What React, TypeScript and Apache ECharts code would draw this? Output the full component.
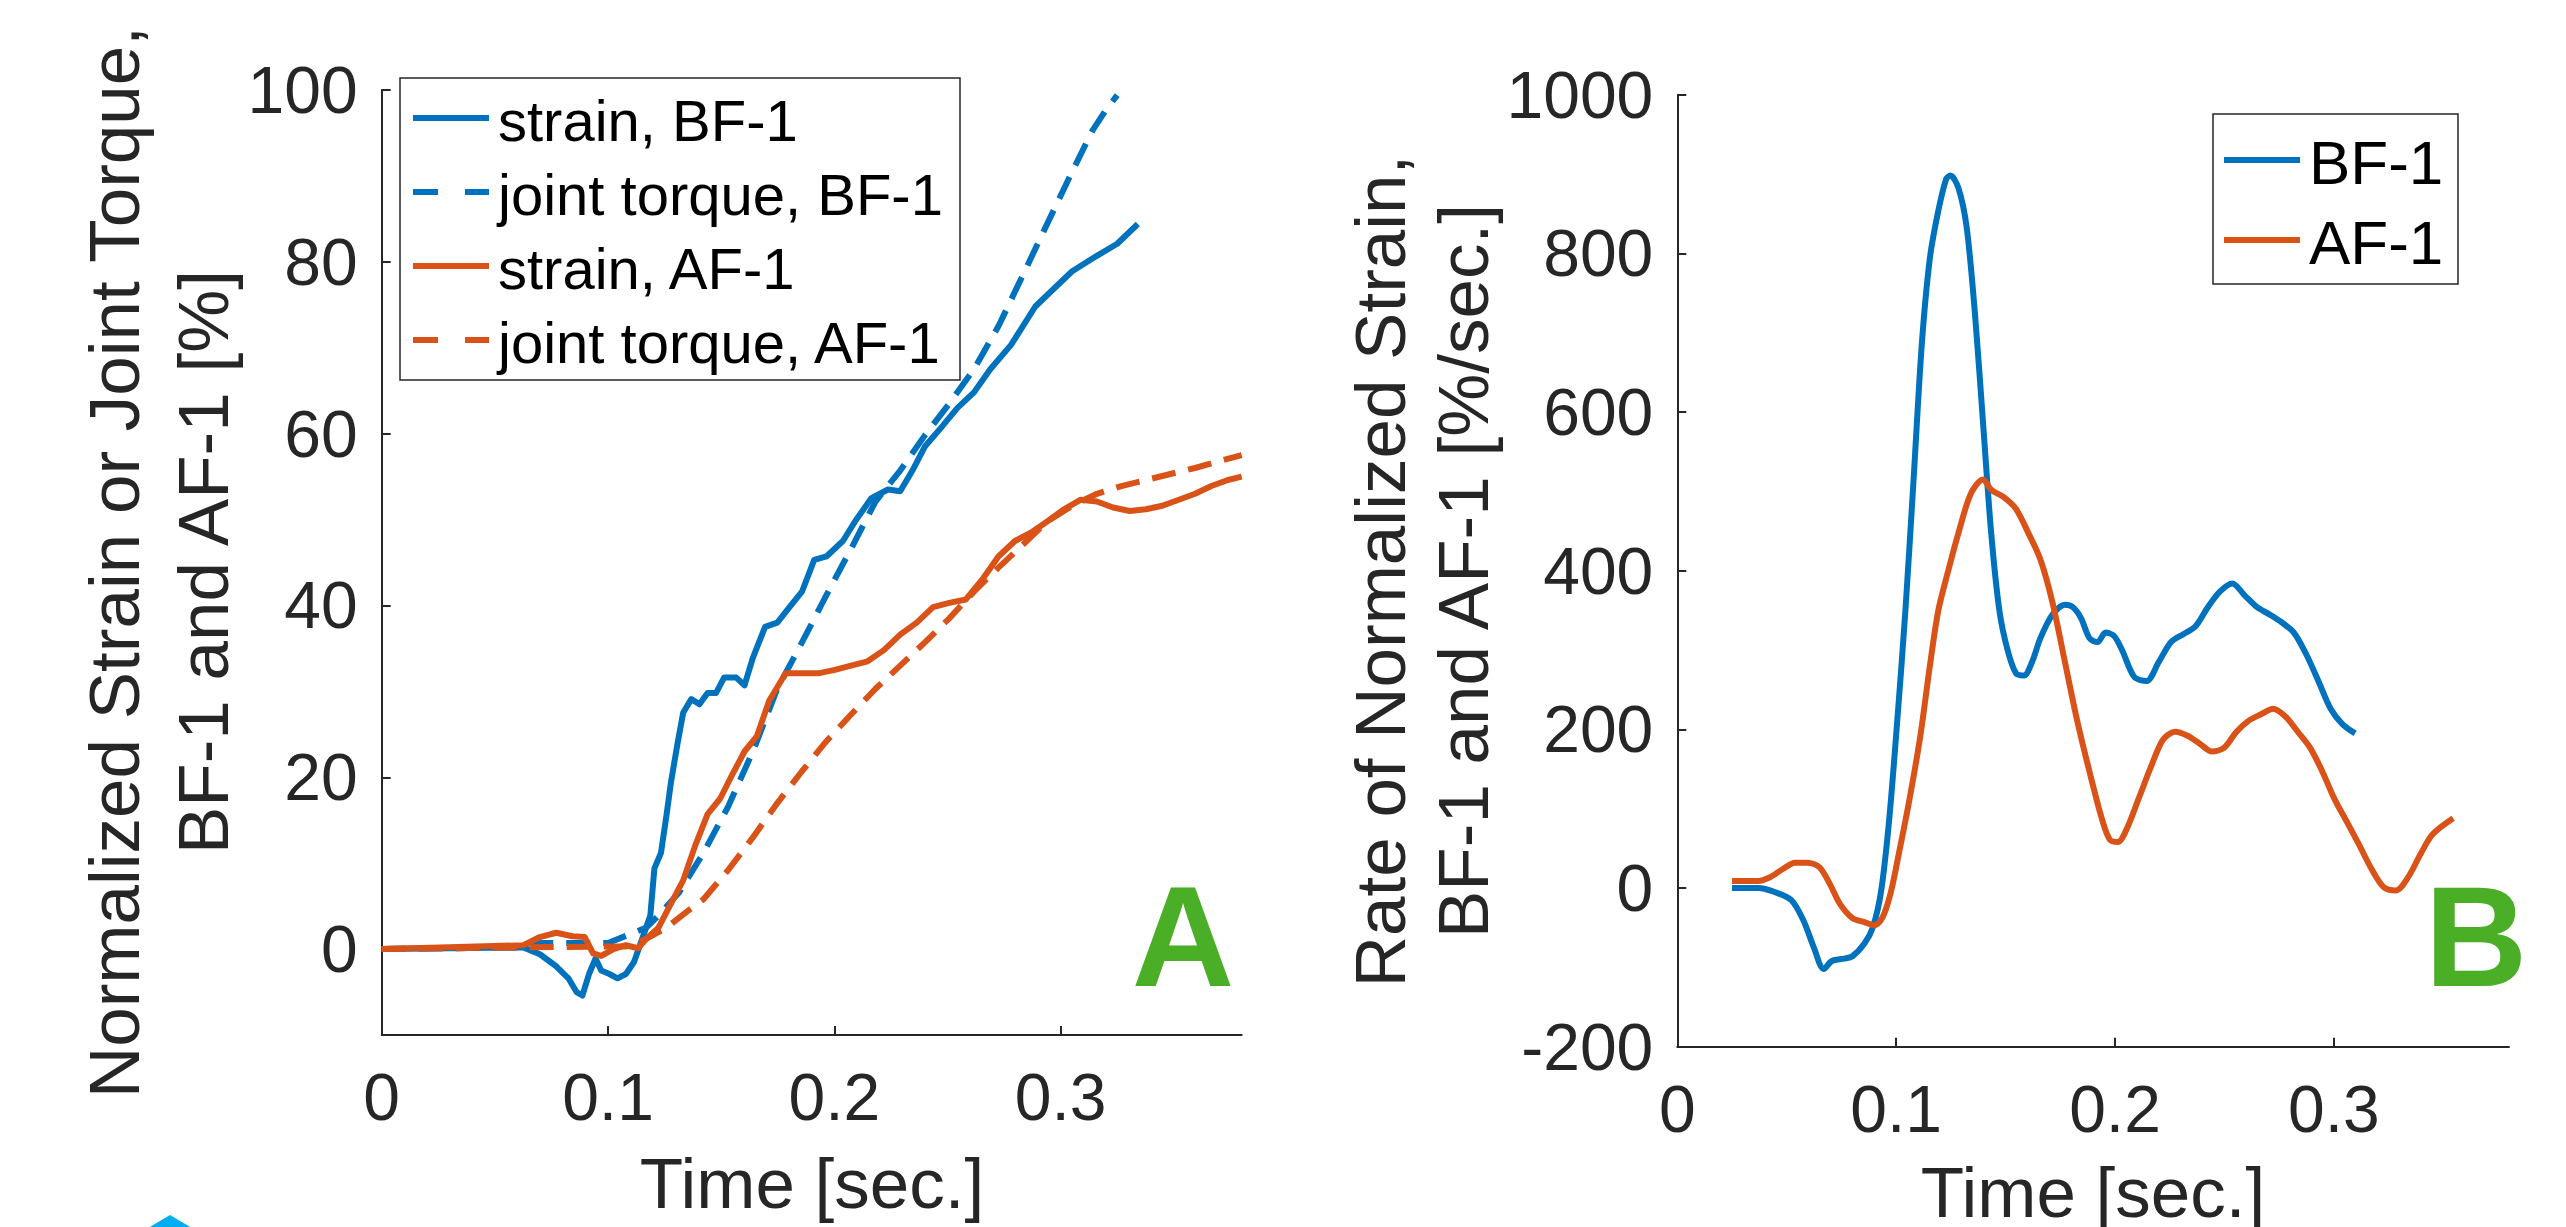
import React, { useEffect, useRef } from "react";
import * as echarts from "echarts";

const FONT = "'Liberation Sans', Arial, Helvetica, sans-serif";
const BLUE = "#0072BD";
const ORANGE = "#D95319";
const GREEN = "#4AAE27";
const AXIS = "#262626";

// ---------- tick labels ----------
const xTicks = [0, 0.1, 0.2, 0.3];
const yTicksA = [0, 20, 40, 60, 80, 100];
const yTicksB = [-200, 0, 200, 400, 600, 800, 1000];

// ---------- panel A: normalized strain / joint torque [%] ----------
const strainBF1: [number, number][] = [
  [0, 0], [0.03, 0.1], [0.0626, 0.2], [0.0699, -0.6], [0.0771, -2], [0.0825, -3.4], [0.0861, -5],
  [0.0887, -5.4], [0.0916, -2.9], [0.0945, -1.1], [0.097, -2.5], [0.1006, -2.9], [0.1042, -3.4],
  [0.1079, -2.9], [0.1115, -1.5], [0.1151, 1.2], [0.1187, 3.9], [0.1205, 9.4], [0.1234, 11.2],
  [0.1259, 15.7], [0.1278, 19.4], [0.1307, 23.9], [0.1332, 27.5], [0.1368, 29.1], [0.1404, 28.5],
  [0.144, 29.8], [0.1477, 29.8], [0.1513, 31.6], [0.1567, 31.6], [0.1603, 30.7], [0.164, 33.9],
  [0.1694, 37.5], [0.1748, 38], [0.1802, 39.8], [0.1857, 41.6], [0.1911, 45.3], [0.1965, 45.7],
  [0.2038, 47.5], [0.2092, 49.8], [0.2164, 52.5], [0.2237, 53.5], [0.2291, 53.3], [0.2345, 55.7],
  [0.24, 58.5], [0.2472, 60.7], [0.2544, 63], [0.2617, 64.8], [0.2689, 67.5], [0.278, 70.3],
  [0.2888, 74.8], [0.2979, 77.1], [0.3051, 78.9], [0.316, 80.7], [0.325, 82.1], [0.3341, 84.4],
];
const torqueBF1: [number, number][] = [
  [0, 0], [0.06, 0.2], [0.069, 0.7], [0.1, 0.7], [0.1169, 2.5], [0.1223, 3.9], [0.1314, 6.6],
  [0.1422, 11.2], [0.1531, 16.6], [0.164, 23], [0.1748, 30.3], [0.1857, 35.7], [0.1965, 41.2],
  [0.2074, 46.6], [0.2182, 52.1], [0.2291, 55.7], [0.24, 59.8], [0.2508, 63.5], [0.2617, 67.5],
  [0.2725, 72.5], [0.2834, 78.5], [0.2942, 84.5], [0.3051, 90.5], [0.3141, 95.3], [0.3196, 97.5],
  [0.325, 99.4],
];
const strainAF1: [number, number][] = [
  [0, 0], [0.03, 0.2], [0.0626, 0.45], [0.0699, 1.4], [0.0771, 1.9], [0.0843, 1.5], [0.0897, 1.4],
  [0.0934, -0.5], [0.097, -0.8], [0.1024, 0], [0.1079, 0.45], [0.1133, 0.1], [0.1169, 1.2],
  [0.1223, 2.5], [0.1278, 5.3], [0.1332, 8], [0.1386, 12.1], [0.144, 15.7], [0.1495, 17.5],
  [0.1549, 20.3], [0.1603, 23], [0.1658, 24.8], [0.1712, 28.9], [0.1785, 32.1], [0.1857, 32.1],
  [0.1929, 32.1], [0.2002, 32.5], [0.2074, 33], [0.2147, 33.5], [0.2219, 34.8], [0.2291, 36.6],
  [0.2364, 38], [0.2436, 39.8], [0.2508, 40.3], [0.2581, 40.7], [0.2653, 43], [0.2725, 45.7],
  [0.2798, 47.5], [0.287, 48.5], [0.2942, 49.8], [0.3015, 51.2], [0.3087, 52.3], [0.316, 52.1],
  [0.3232, 51.4], [0.3305, 51], [0.3377, 51.2], [0.3449, 51.6], [0.3522, 52.3], [0.3594, 53],
  [0.3666, 53.9], [0.3739, 54.6], [0.38, 55],
];
const torqueAF1: [number, number][] = [
  [0, 0], [0.06, 0.2], [0.1, 0.3], [0.1079, 0.3], [0.1169, 1.2], [0.1259, 2.5], [0.135, 4.4],
  [0.1422, 5.8], [0.1531, 9.2], [0.164, 13.0], [0.1748, 17.0], [0.1857, 20.7], [0.1965, 24.2],
  [0.2074, 27.3], [0.2182, 30.3], [0.2291, 33], [0.24, 35.7], [0.2508, 38.5], [0.2617, 41.6],
  [0.2725, 44.4], [0.2834, 47.1], [0.2942, 49.8], [0.3051, 51.6], [0.316, 53], [0.3268, 53.9],
  [0.3377, 54.6], [0.3485, 55.3], [0.3594, 56], [0.3702, 56.8], [0.38, 57.5],
];

// ---------- panel B: rate of normalized strain [%/sec.] ----------
const rateBF1: [number, number][] = [
  [0.025, 0], [0.037, 0], [0.0445, -5], [0.052, -15], [0.0575, -40], [0.0624, -75], [0.0669, -102],
  [0.0706, -92], [0.0762, -89], [0.08, -86], [0.0855, -70], [0.0893, -50], [0.093, -6], [0.0967, 83],
  [0.1005, 211], [0.1042, 349], [0.108, 517], [0.1117, 685], [0.1154, 794], [0.1192, 853],
  [0.1229, 894], [0.1248, 898], [0.1285, 882], [0.1322, 833], [0.136, 724], [0.1397, 586],
  [0.1434, 448], [0.1472, 349], [0.1509, 300], [0.1547, 271], [0.1584, 268], [0.1621, 285],
  [0.1659, 315], [0.1715, 345], [0.1771, 357], [0.1808, 354], [0.1845, 340], [0.1883, 315],
  [0.192, 310], [0.1957, 322], [0.1995, 318], [0.2032, 300], [0.2088, 266], [0.2144, 261],
  [0.22, 285], [0.2256, 310], [0.2312, 320], [0.2368, 330], [0.2424, 354], [0.248, 374],
  [0.2536, 384], [0.2592, 369], [0.2649, 354], [0.2705, 345], [0.2761, 335], [0.2817, 322],
  [0.2873, 295], [0.2929, 261], [0.2985, 226], [0.3041, 206], [0.3097, 195],
];
const rateAF1: [number, number][] = [
  [0.025, 9], [0.037, 9], [0.0426, 14], [0.0482, 24], [0.0538, 32], [0.0594, 32], [0.065, 26],
  [0.0699, 4], [0.0743, -20], [0.08, -38], [0.0855, -43], [0.09, -47], [0.0938, -37], [0.0975, -6],
  [0.1012, 43], [0.1061, 112], [0.111, 191], [0.1154, 280], [0.1192, 349], [0.1236, 398],
  [0.1285, 448], [0.1341, 497], [0.1397, 515], [0.1434, 502], [0.149, 493], [0.1547, 478],
  [0.1603, 448], [0.1659, 414], [0.1715, 359], [0.1771, 285], [0.1827, 211], [0.1883, 147],
  [0.1939, 88], [0.1976, 61], [0.2013, 58], [0.2051, 73], [0.2107, 112], [0.2163, 152],
  [0.2219, 187], [0.2275, 197], [0.2331, 192], [0.2387, 182], [0.2443, 172], [0.2499, 177],
  [0.2555, 197], [0.2611, 211], [0.2667, 219], [0.2723, 226], [0.2779, 216], [0.2835, 197],
  [0.2891, 177], [0.2947, 147], [0.3003, 112], [0.306, 83], [0.3116, 54], [0.3172, 24],
  [0.3228, 1], [0.3284, -3], [0.334, 14], [0.3396, 43], [0.3452, 68], [0.3545, 88],
];

// ---------- texts ----------
const legendA = ["strain, BF-1", "joint torque, BF-1", "strain, AF-1", "joint torque, AF-1"];
const legendB = ["BF-1", "AF-1"];
const yTitleA = ["Normalized Strain or Joint Torque,", "BF-1 and AF-1 [%]"];
const yTitleB = ["Rate of Normalized Strain,", "BF-1 and AF-1 [%/sec.]"];
const xTitle = "Time [sec.]";
const panelLetters = ["A", "B"];

const fmtX = (v: number) => (v === 0 ? "0" : String(Number(v.toFixed(2))));
const fmtY = (v: number) => String(Math.round(v));

function xAxisDef(gridIndex: number) {
  return {
    type: "value",
    gridIndex,
    min: 0,
    max: 0.38,
    axisLine: { show: true, onZero: false, lineStyle: { color: AXIS, width: 2 } },
    axisTick: { show: true, inside: true, length: 9, customValues: xTicks, lineStyle: { color: AXIS, width: 2 } },
    axisLabel: {
      customValues: xTicks,
      formatter: fmtX,
      fontSize: 66,
      lineHeight: 66,
      fontFamily: FONT,
      color: AXIS,
      margin: 29,
    },
    splitLine: { show: false },
  };
}

function yAxisDef(gridIndex: number, min: number, max: number, ticks: number[]) {
  return {
    type: "value",
    gridIndex,
    min,
    max,
    axisLine: { show: true, onZero: false, lineStyle: { color: AXIS, width: 2 } },
    axisTick: { show: true, inside: true, length: 9, customValues: ticks, lineStyle: { color: AXIS, width: 2 } },
    axisLabel: {
      customValues: ticks,
      formatter: fmtY,
      fontSize: 66,
      fontFamily: FONT,
      color: AXIS,
      margin: 24,
    },
    splitLine: { show: false },
  };
}

function lineSeries(name: string, data: [number, number][], color: string, dashed: boolean, idx: number, smooth: number | boolean) {
  return {
    type: "line",
    name,
    data,
    xAxisIndex: idx,
    yAxisIndex: idx,
    showSymbol: false,
    symbol: "none",
    smooth,
    lineStyle: { color, width: 6, type: dashed ? [24, 13] : "solid", cap: "butt", join: "round" },
    itemStyle: { color },
    z: 2,
  };
}

function textEl(text: string, x: number, y: number, size: number, opts: any = {}) {
  return {
    type: "text",
    x,
    y,
    rotation: opts.rotation || 0,
    z: 100,
    style: {
      text,
      x: 0,
      y: 0,
      fontSize: size,
      fontFamily: FONT,
      fontWeight: opts.bold ? "bold" : "normal",
      fill: opts.color || AXIS,
      align: opts.align || "center",
      verticalAlign: "middle",
    },
  };
}

function buildGraphic() {
  const g: any[] = [];
  // legend A
  g.push({ type: "rect", z: 99, shape: { x: 400, y: 78, width: 560, height: 302 }, style: { fill: "#fff", stroke: AXIS, lineWidth: 1.5 } });
  const rowsA = [118, 192, 266, 340];
  const colsA = [BLUE, BLUE, ORANGE, ORANGE];
  legendA.forEach((label, i) => {
    const dashed = i % 2 === 1;
    g.push({
      type: "line",
      z: 100,
      shape: { x1: 413, y1: rowsA[i], x2: 489, y2: rowsA[i] },
      style: { stroke: colsA[i], lineWidth: 6, lineDash: dashed ? [25, 27] : null },
    });
    g.push(textEl(label, 498, rowsA[i] + 2, 58, { align: "left", color: "#000" }));
  });
  // legend B
  g.push({ type: "rect", z: 99, shape: { x: 2213, y: 114, width: 245, height: 170 }, style: { fill: "#fff", stroke: AXIS, lineWidth: 1.5 } });
  const rowsB = [160, 240];
  const colsB = [BLUE, ORANGE];
  legendB.forEach((label, i) => {
    g.push({
      type: "line",
      z: 100,
      shape: { x1: 2224, y1: rowsB[i], x2: 2300, y2: rowsB[i] },
      style: { stroke: colsB[i], lineWidth: 6 },
    });
    g.push(textEl(label, 2309, rowsB[i] + 2, 62, { align: "left", color: "#000" }));
  });
  // axis titles
  g.push(textEl(yTitleA[0], 114, 562, 71, { rotation: Math.PI / 2 }));
  g.push(textEl(yTitleA[1], 203, 562, 71, { rotation: Math.PI / 2 }));
  g.push(textEl(yTitleB[0], 1380, 571, 71, { rotation: Math.PI / 2 }));
  g.push(textEl(yTitleB[1], 1463, 571, 71, { rotation: Math.PI / 2 }));
  g.push(textEl(xTitle, 812, 1183, 71));
  g.push(textEl(xTitle, 2093, 1192, 71));
  // panel letters
  g.push(textEl(panelLetters[0], 1183, 936, 142, { bold: true, color: GREEN }));
  g.push(textEl(panelLetters[1], 2476, 936, 142, { bold: true, color: GREEN }));
  // partial cyan logo at the bottom edge
  g.push({ type: "polygon", z: 100, shape: { points: [[148, 1228], [170, 1215], [192, 1228]] }, style: { fill: "#00AEEF" } });
  return g;
}

export default function App() {
  const ref = useRef<HTMLDivElement>(null);
  useEffect(() => {
    const chart = echarts.init(ref.current!, null, { renderer: "svg" });
    const option: any = {
      animation: false,
      backgroundColor: "#ffffff",
      grid: [
        { left: 381.7, top: 90, width: 860, height: 945 },
        { left: 1677.3, top: 94.7, width: 831.7, height: 952 },
      ],
      xAxis: [xAxisDef(0), xAxisDef(1)],
      yAxis: [yAxisDef(0, -10, 100, yTicksA), yAxisDef(1, -200, 1000, yTicksB)],
      series: [
        lineSeries(legendA[0], strainBF1, BLUE, false, 0, false),
        lineSeries(legendA[1], torqueBF1, BLUE, true, 0, false),
        lineSeries(legendA[2], strainAF1, ORANGE, false, 0, false),
        lineSeries(legendA[3], torqueAF1, ORANGE, true, 0, false),
        lineSeries(legendB[0], rateBF1, BLUE, false, 1, 0.3),
        lineSeries(legendB[1], rateAF1, ORANGE, false, 1, 0.3),
      ],
      graphic: buildGraphic(),
    };
    chart.setOption(option);
    return () => chart.dispose();
  }, []);
  return (
    <div
      ref={ref}
      style={{ position: "absolute", left: 0, top: 0, width: 2566, height: 1227, background: "#fff" }}
    />
  );
}
